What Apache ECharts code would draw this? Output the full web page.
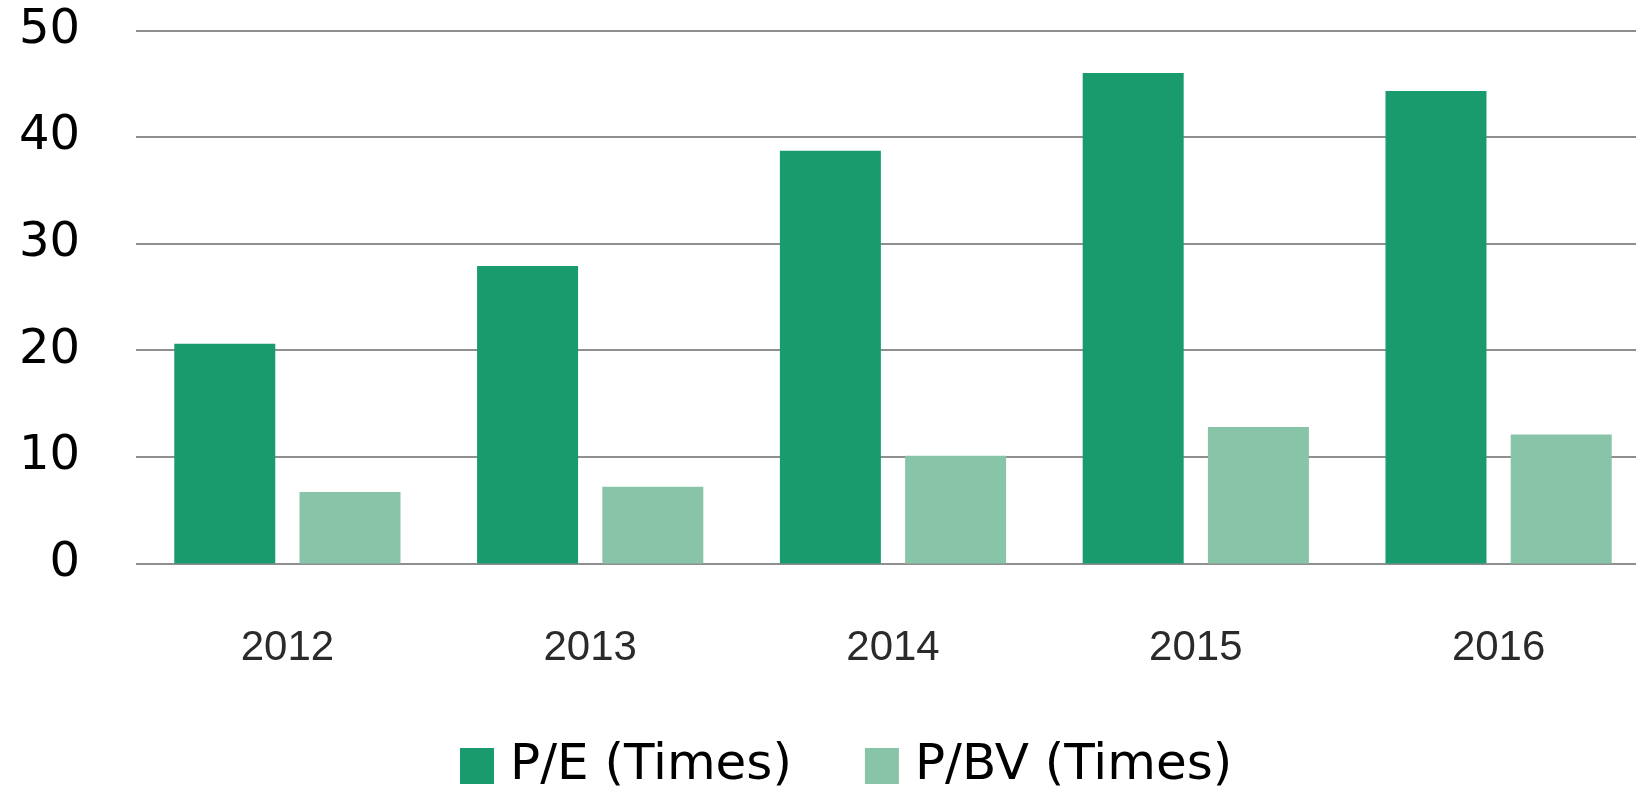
<!DOCTYPE html>
<html>
<head>
<meta charset="utf-8">
<script src="https://cdn.jsdelivr.net/npm/echarts@6/dist/echarts.min.js"></script>
<style>
  html, body { margin: 0; padding: 0; background: #ffffff; }
  #chart { width: 1636px; height: 788px; }
</style>
</head>
<body>
<div id="chart"></div>
<script>
const categories = ['2012', '2013', '2014', '2015', '2016'];
const peValues = [20.6, 27.9, 38.7, 46.0, 44.3];
const pbvValues = [6.7, 7.2, 10.1, 12.8, 12.1];
const yTicks = { min: 0, max: 50, interval: 10 };

const chart = echarts.init(document.getElementById('chart'), null, { renderer: 'canvas' });
chart.setOption({
  animation: false,
  backgroundColor: '#ffffff',
  grid: { left: 136, width: 1514, top: 30.3, height: 533.1, containLabel: false, outerBoundsMode: 'none' },
  legend: {
    left: 455,
    top: 736,
    itemWidth: 34,
    itemHeight: 36,
    itemGap: 73,
    icon: 'rect',
    textStyle: { fontFamily: 'DejaVu Sans', fontSize: 50, color: '#000', padding: [0, 0, 0, 11] },
    data: ['P/E (Times)', 'P/BV (Times)']
  },
  xAxis: {
    type: 'category',
    data: categories,
    axisLine: { show: false },
    axisTick: { show: false },
    axisLabel: { fontFamily: 'Liberation Sans', fontSize: 42, color: '#2a2a2a', margin: 64 }
  },
  yAxis: {
    type: 'value',
    min: yTicks.min,
    max: yTicks.max,
    interval: yTicks.interval,
    axisLine: { show: false },
    axisTick: { show: false },
    splitLine: { lineStyle: { color: '#8f8f8f', width: 2 } },
    axisLabel: { fontFamily: 'DejaVu Sans', fontSize: 48, color: '#000', margin: 56 }
  },
  series: [
    {
      name: 'P/E (Times)',
      type: 'bar',
      data: peValues,
      barWidth: 101,
      barGap: '24%',
      itemStyle: { color: '#1a9b6e' }
    },
    {
      name: 'P/BV (Times)',
      type: 'bar',
      data: pbvValues,
      barWidth: 101,
      barGap: '24%',
      itemStyle: { color: '#88c5a8' }
    }
  ]
});
</script>
</body>
</html>
